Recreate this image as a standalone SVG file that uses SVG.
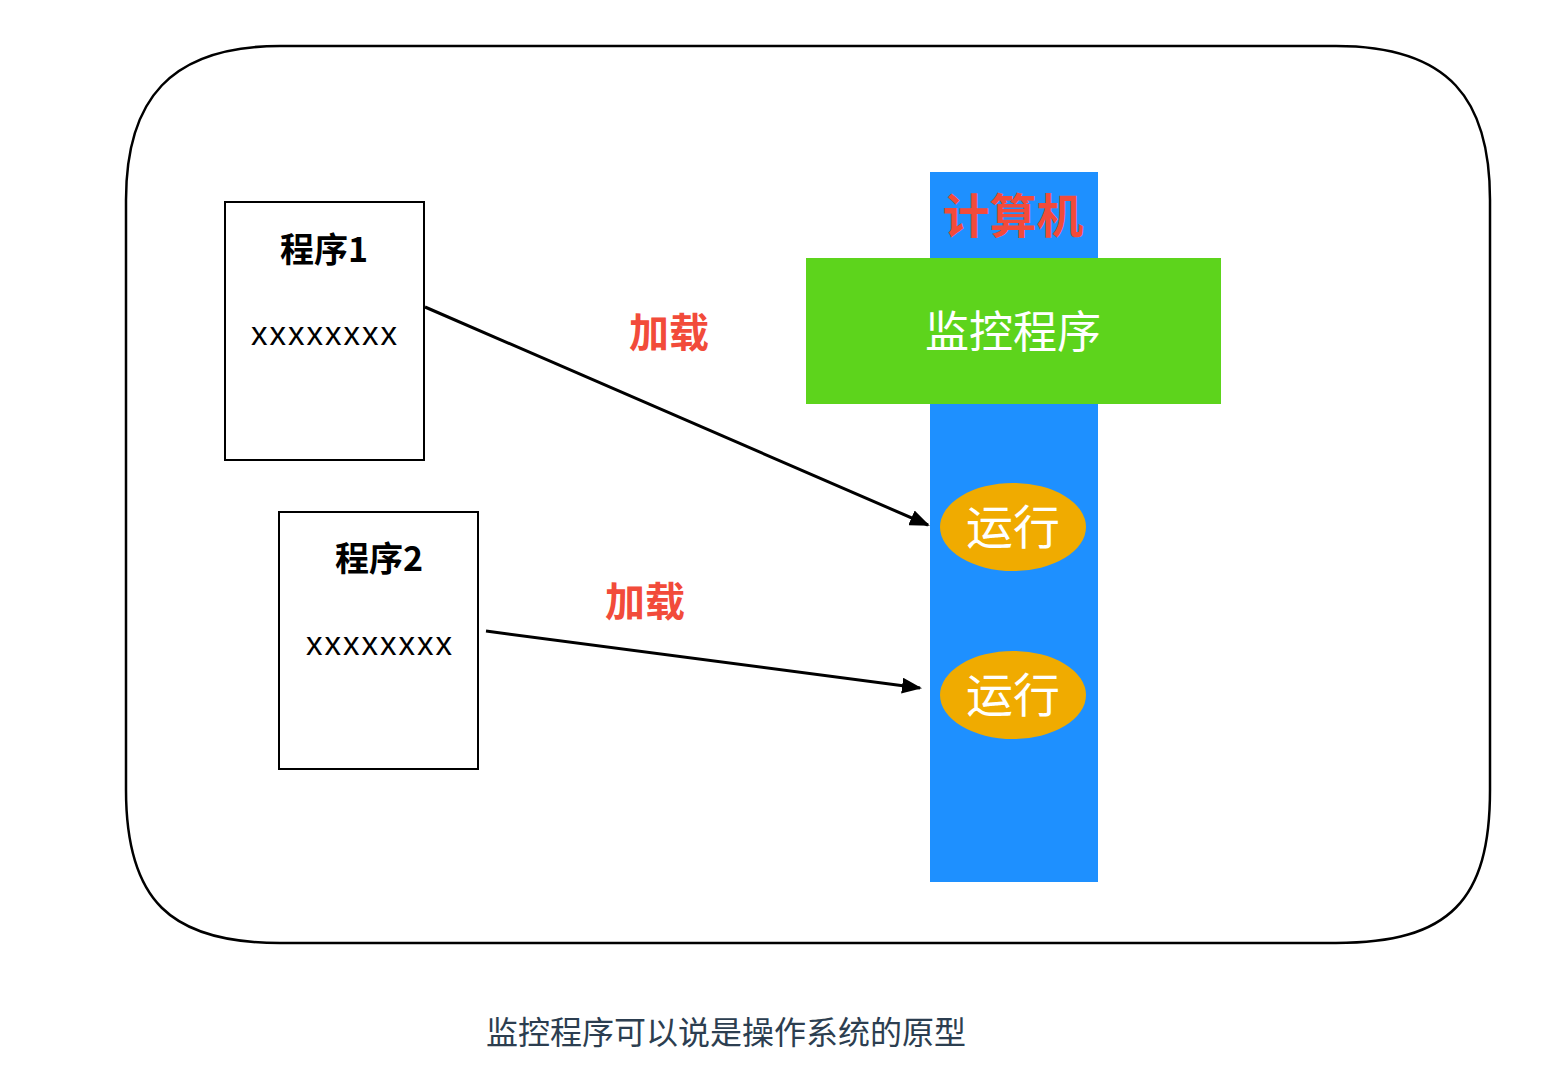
<svg xmlns="http://www.w3.org/2000/svg" width="1560" height="1074" viewBox="0 0 1560 1074">
<style>
.cjk{font-family:"Noto Sans CJK SC","Liberation Sans",sans-serif}
.box{fill:#fff;stroke:#000;stroke-width:2}
.red{fill:#F24B3A;font-weight:bold}
.white{fill:#fff}
.conn{stroke:#000;stroke-width:3;fill:none}
.xs{font-family:"Liberation Sans",sans-serif;font-size:33px;letter-spacing:2px}
</style>
<defs>
<marker id="ah2" viewBox="0 0 20 16" refX="18" refY="8" markerWidth="20" markerHeight="16" orient="auto" markerUnits="userSpaceOnUse">
<path d="M0,0 L20,8 L0,16 Z" fill="#000"/>
</marker>
</defs>
<rect width="1560" height="1074" fill="#fff"/>
<g id="frame">
<path d="M280,46 L1336,46 C1450,46 1490,100 1490,200 L1490,790 C1490,900 1450,943 1336,943 L280,943 C170,943 126,900 126,790 L126,200 C126,100 170,46 280,46 Z" fill="none" stroke="#000" stroke-width="2.5"/>
</g>
<g id="computer">
<rect x="930" y="172" width="168" height="710" fill="#1E90FF"/>
<text x="1013" y="233" text-anchor="middle" font-size="47" class="cjk red">计算机</text>
</g>
<g id="monitor">
<rect x="806" y="258" width="415" height="146" fill="#5DD41C"/>
<text x="1013" y="348" text-anchor="middle" font-size="44" class="cjk white">监控程序</text>
</g>
<g id="run1">
<ellipse cx="1013" cy="527" rx="73" ry="44" fill="#F0AB00"/>
<text x="1013" y="544" text-anchor="middle" font-size="47" class="cjk white">运行</text>
</g>
<g id="run2">
<ellipse cx="1013" cy="695" rx="73" ry="44" fill="#F0AB00"/>
<text x="1013" y="712" text-anchor="middle" font-size="47" class="cjk white">运行</text>
</g>
<g id="prog1">
<rect x="225" y="202" width="199" height="258" class="box"/>
<text x="324" y="262" text-anchor="middle" font-size="34" font-weight="bold" class="cjk">程序1</text>
<text x="325" y="345" text-anchor="middle" class="xs">xxxxxxxx</text>
</g>
<g id="prog2">
<rect x="279" y="512" width="199" height="257" class="box"/>
<text x="379" y="571" text-anchor="middle" font-size="34" font-weight="bold" class="cjk">程序2</text>
<text x="380" y="655" text-anchor="middle" class="xs">xxxxxxxx</text>
</g>
<g id="connectors">
<line x1="425" y1="307" x2="928" y2="525" class="conn" marker-end="url(#ah2)"/>
<line x1="486" y1="631" x2="920" y2="688" class="conn" marker-end="url(#ah2)"/>
<text x="669" y="347" text-anchor="middle" font-size="40" class="cjk red">加载</text>
<text x="645" y="616" text-anchor="middle" font-size="40" class="cjk red">加载</text>
</g>
<text x="726" y="1044" text-anchor="middle" font-size="32" fill="#2C3E50" class="cjk">监控程序可以说是操作系统的原型</text>
</svg>
